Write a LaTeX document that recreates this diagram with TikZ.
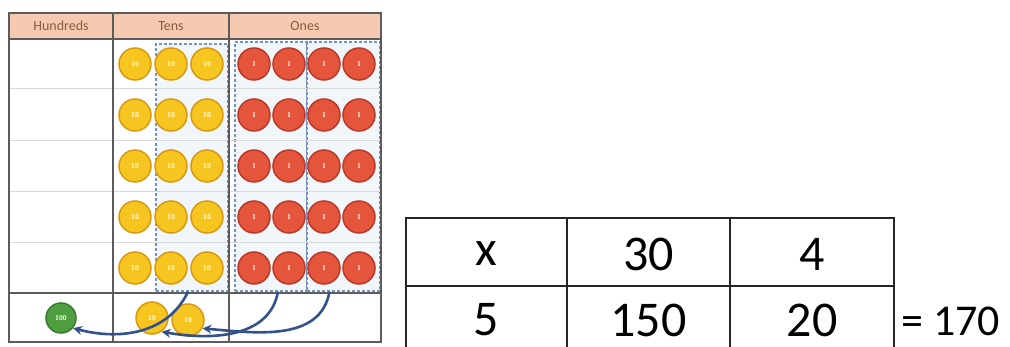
\documentclass[tikz,border=0pt]{standalone}
\usepackage{fontspec}
\setmainfont{Carlito}
\usetikzlibrary{arrows.meta}

\definecolor{tenfill}{HTML}{F7C520}
\definecolor{tenring}{HTML}{D99A12}
\definecolor{onefill}{HTML}{E5553B}
\definecolor{onering}{HTML}{B93A2A}
\definecolor{hunfill}{HTML}{4F9E3F}
\definecolor{hunring}{HTML}{377A2C}
\definecolor{headfill}{HTML}{F6CAB0}
\definecolor{headtext}{HTML}{8A5A40}
\definecolor{gridgrey}{HTML}{5C5C5C}
\definecolor{grpblue}{HTML}{7893BA}
\definecolor{grpback}{HTML}{F1F6FA}
\definecolor{moveblue}{HTML}{33528C}

\begin{document}
\begin{tikzpicture}[x=1pt, y=-1pt,
    coin/.style = {circle, line width=1.5pt, minimum size=32pt, inner sep=0pt, text=white, font=\sffamily\bfseries\fontsize{7}{7}\selectfont},
    ten/.style = {coin, draw=tenring, fill=tenfill},
    one/.style = {coin, draw=onering, fill=onefill},
    hun/.style = {coin, draw=hunring, fill=hunfill, minimum size=30pt},
    grp/.style = {draw=grpblue, fill=grpback, line width=1.2pt, dash pattern=on 3pt off 2pt, inner sep=0pt},
    head/.style = {text=headtext, font=\fontsize{14}{14}\selectfont},
    cell/.style = {font=\fontsize{50}{60}\selectfont},
    move/.style = {draw=moveblue, line width=2.6pt, -{Stealth[length=9pt, width=9pt]}}]

    \useasboundingbox (0,0) rectangle (1010,347);

    % place value chart
    \fill[headfill] (9,13) rectangle (381,39);
    \node[grp, minimum width=72pt, minimum height=247pt] (tengrp) at (192,167.5) {};
    \node[grp, minimum width=72pt, minimum height=249pt] (onegrpa) at (271,166.5) {};
    \node[grp, minimum width=73pt, minimum height=249pt] (onegrpb) at (343.5,166.5) {};
    \foreach \y in {88,140,191,242}
        \draw[black!15, line width=0.8pt] (9,\y) -- (381,\y);
    \draw[gridgrey, line width=1.6pt] (9,13) rectangle (381,342)
        (9,39) -- (381,39) (9,293) -- (381,293)
        (113,13) -- (113,342) (229,13) -- (229,342);

    \node[head] (hundreds) at (61,26) {Hundreds};
    \node[head] (tens) at (171,26) {Tens};
    \node[head] (ones) at (305,26) {Ones};

    % counters
    \foreach \y [count=\r] in {64,115,166,217,268} {
        \foreach \x [count=\c] in {135,171,207}
            \node[ten] (t\r\c) at (\x,\y) {10};
        \foreach \x [count=\c] in {254,289,324,359}
            \node[one] (o\r\c) at (\x,\y) {1};
    }

    \node[hun] (h1) at (61,318) {100};
    \node[ten] (n1) at (152,318) {10};
    \node[ten] (n2) at (188,320) {10};

    \path
    ([xshift=-4pt]tengrp.south) edge[move] [out=-115, in=-15] (h1.-40)
    ([xshift=7pt]onegrpa.south) edge[move] [out=-100, in=-10] (n1.-55)
    ([xshift=-14pt]onegrpb.south) edge[move] [out=-100, in=-5] (n2.-30)
    ;

    % multiplication grid
    \draw[black!85, line width=1.6pt] (406,347) -- (406,218) -- (894,218) -- (894,347)
        (406,286) -- (894,286) (567,218) -- (567,347) (730,218) -- (730,347);

    \node[cell] (x) at (486.5,254) {x};
    \node[cell] (a) at (648.5,254) {30};
    \node[cell] (b) at (812,254) {4};
    \node[cell] (c) at (486.5,320) {5};
    \node[cell] (d) at (648.5,320) {150};
    \node[cell] (e) at (812,320) {20};
    \node[font=\fontsize{44}{50}\selectfont, anchor=west, inner sep=0pt] (sum) at (901,321) {= 170};
\end{tikzpicture}
\end{document}
